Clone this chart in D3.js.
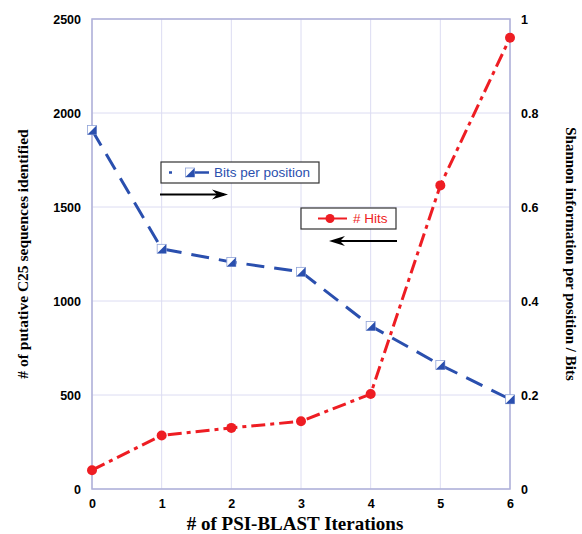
<!DOCTYPE html>
<html><head><meta charset="utf-8">
<script src="https://cdn.jsdelivr.net/npm/d3@7"></script>
<style>body{margin:0;background:#fff}svg{display:block}</style>
</head><body>
<script>
const iterations = [0, 1, 2, 3, 4, 5, 6];
const hits = [100, 285, 325, 360, 505, 1615, 2400];
const bits = [0.764, 0.511, 0.483, 0.462, 0.347, 0.264, 0.191];
const leftTicks = [0, 500, 1000, 1500, 2000, 2500];
const rightTicks = [0, 0.2, 0.4, 0.6, 0.8, 1];

const W = 582, H = 534;
const m = {l: 92, r: 72, t: 19, b: 45};
const svg = d3.select("body").append("svg").attr("width", W).attr("height", H);
const x = d3.scaleLinear().domain([0, 6]).range([m.l, W - m.r]);
const yL = d3.scaleLinear().domain([0, 2500]).range([H - m.b, m.t]);
const yR = d3.scaleLinear().domain([0, 1]).range([H - m.b, m.t]);
const blue = "#2a4fae", red = "#ee1d23", grid = "#dcdcf2", frame = "#aeb0d8";

// grid
svg.append("g").selectAll("line").data(leftTicks).join("line")
  .attr("x1", m.l).attr("x2", W - m.r).attr("y1", d => yL(d)).attr("y2", d => yL(d))
  .attr("stroke", grid).attr("stroke-width", 1);
svg.append("g").selectAll("line").data(iterations).join("line")
  .attr("x1", d => x(d)).attr("x2", d => x(d)).attr("y1", m.t).attr("y2", H - m.b)
  .attr("stroke", grid).attr("stroke-width", 1);
// frame
svg.append("rect").attr("x", m.l).attr("y", m.t).attr("width", W - m.r - m.l).attr("height", H - m.b - m.t)
  .attr("fill", "none").attr("stroke", frame).attr("stroke-width", 1.5);

// axes
const tickFont = "bold 12.5px 'Liberation Sans', Arial, sans-serif";
const axL = svg.append("g").attr("transform", `translate(${m.l},0)`)
  .call(d3.axisLeft(yL).tickValues(leftTicks).tickSize(0).tickPadding(11).tickFormat(d3.format("d")));
const axR = svg.append("g").attr("transform", `translate(${W - m.r},0)`)
  .call(d3.axisRight(yR).tickValues(rightTicks).tickSize(0).tickPadding(11).tickFormat(d => d === 0 || d === 1 ? d : d3.format(".1f")(d)));
const axB = svg.append("g").attr("transform", `translate(0,${H - m.b})`)
  .call(d3.axisBottom(x).tickValues(iterations).tickSize(0).tickPadding(10).tickFormat(d3.format("d")));
[axL, axR, axB].forEach(a => {
  a.select(".domain").remove();
  a.selectAll("text").style("font", tickFont).attr("fill", "#000");
});

// titles
svg.append("text").attr("x", 295).attr("y", 530).attr("text-anchor", "middle")
  .style("font", "bold 19px 'Liberation Serif', 'Times New Roman', serif").text("# of PSI-BLAST Iterations");
svg.append("text").attr("transform", `translate(28,${(m.t + H - m.b) / 2}) rotate(-90)`).attr("text-anchor", "middle")
  .style("font", "bold 15.5px 'Liberation Serif', 'Times New Roman', serif").text("# of putative C25 sequences identified");
svg.append("text").attr("transform", `translate(566,${(m.t + H - m.b) / 2}) rotate(90)`).attr("text-anchor", "middle")
  .style("font", "bold 15px 'Liberation Serif', 'Times New Roman', serif").text("Shannon information per position / Bits");

// lines
const lineB = d3.line().x((d, i) => x(iterations[i])).y(d => yR(d));
const lineH = d3.line().x((d, i) => x(iterations[i])).y(d => yL(d));
svg.append("path").datum(bits).attr("d", lineB).attr("fill", "none").attr("stroke", blue)
  .attr("stroke-width", 3).attr("stroke-dasharray", "18,10");
svg.append("path").datum(hits).attr("d", lineH).attr("fill", "none").attr("stroke", red)
  .attr("stroke-width", 3).attr("stroke-dasharray", "14,5,4,5");

function bitsMarker(g, cx, cy) {
  const s = 4.5;
  g.append("rect").attr("x", cx - s).attr("y", cy - s).attr("width", 2 * s).attr("height", 2 * s)
    .attr("fill", "#fff").attr("stroke", "#8fa3d8").attr("stroke-width", 0.8);
  g.append("path").attr("d", `M${cx - s},${cy + s}L${cx + s},${cy - s}L${cx + s},${cy + s}Z`).attr("fill", blue);
}
const mg = svg.append("g");
bits.forEach((d, i) => bitsMarker(mg, x(iterations[i]), yR(d)));
svg.append("g").selectAll("circle").data(hits).join("circle")
  .attr("cx", (d, i) => x(iterations[i])).attr("cy", d => yL(d)).attr("r", 5).attr("fill", red);

// legends
const legFont = "13.5px 'Liberation Sans', Arial, sans-serif";
const l1 = svg.append("g");
l1.append("rect").attr("x", 161).attr("y", 162).attr("width", 158).attr("height", 21)
  .attr("fill", "#fff").attr("stroke", "#333").attr("stroke-width", 1.2);
l1.append("line").attr("x1", 169).attr("x2", 172).attr("y1", 172.5).attr("y2", 172.5).attr("stroke", blue).attr("stroke-width", 2.5);
l1.append("line").attr("x1", 189).attr("x2", 209).attr("y1", 172.5).attr("y2", 172.5).attr("stroke", blue).attr("stroke-width", 2.5);
bitsMarker(l1, 190, 172.5);
l1.append("text").attr("x", 214).attr("y", 177).style("font", legFont).attr("fill", blue).text("Bits per position");

const l2 = svg.append("g");
l2.append("rect").attr("x", 301).attr("y", 208).attr("width", 95).attr("height", 21)
  .attr("fill", "#fff").attr("stroke", "#333").attr("stroke-width", 1.2);
l2.append("line").attr("x1", 318).attr("x2", 347).attr("y1", 218.5).attr("y2", 218.5).attr("stroke", red).attr("stroke-width", 2);
l2.append("circle").attr("cx", 330).attr("cy", 218.5).attr("r", 4.5).attr("fill", red);
l2.append("text").attr("x", 353).attr("y", 223).style("font", legFont).attr("fill", red).text("# Hits");

// arrows
function arrow(x1, x2, yy) {
  const g = svg.append("g");
  const dir = Math.sign(x2 - x1);
  g.append("line").attr("x1", x1).attr("x2", x2 - dir * 4).attr("y1", yy).attr("y2", yy).attr("stroke", "#000").attr("stroke-width", 1.8);
  g.append("path").attr("d", `M${x2},${yy}L${x2 - dir * 16},${yy - 5}L${x2 - dir * 11},${yy}L${x2 - dir * 16},${yy + 5}Z`).attr("fill", "#000");
}
arrow(160, 228, 194.5);
arrow(397, 329, 241);
</script>
</body></html>
